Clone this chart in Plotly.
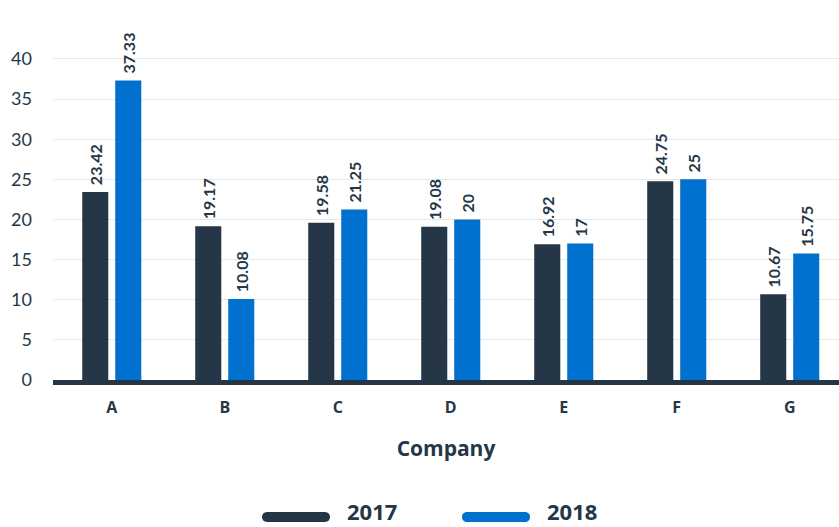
import plotly.graph_objects as go

companies = ["A", "B", "C", "D", "E", "F", "G"]
values_2017 = [23.42, 19.17, 19.58, 19.08, 16.92, 24.75, 10.67]
values_2018 = [37.33, 10.08, 21.25, 20, 17, 25, 15.75]
label_2017 = ["23.42", "19.17", "19.58", "19.08", "16.92", "24.75", "10.67"]
label_2018 = ["37.33", "10.08", "21.25", "20", "17", "25", "15.75"]
series_names = ["2017", "2018"]
colors = ["#253746", "#0071ce"]
y_ticks = [0, 5, 10, 15, 20, 25, 30, 35, 40]

FONT = "Lato"
TFONT = "Open Sans"
TXT = "#253746"

fig = go.Figure()
for name, vals, labels, col in [(series_names[0], values_2017, label_2017, colors[0]),
                                (series_names[1], values_2018, label_2018, colors[1])]:
    fig.add_trace(go.Bar(
        x=companies, y=vals, name=name, marker=dict(color=col, line=dict(width=0)),
        text=["\u00a0" + t for t in labels], textposition="outside", textangle=-90, constraintext="none",
        textfont=dict(family=FONT, size=16, color=TXT, weight="bold"),
        cliponaxis=False, showlegend=False,
    ))

W, H = 839, 527
L, R, T, B = 53, 0, 10, 147
pw, ph = W - L - R, H - T - B

# legend (pills + labels)
legend_items = [(262, series_names[0], colors[0]), (462, series_names[1], colors[1])]
for px, name, col in legend_items:
    xa = (px - L) / pw
    fig.add_shape(type="path", xref="paper", yref="paper", xsizemode="pixel", ysizemode="pixel",
                  xanchor=xa, yanchor=(H - B - 517) / ph,
                  path="M 5 -5 L 63 -5 C 69.7 -5 69.7 5 63 5 L 5 5 C -1.7 5 -1.7 -5 5 -5 Z",
                  fillcolor=col, line=dict(width=0))
    fig.add_annotation(xref="paper", yref="paper", x=(px + 83 - L) / pw, y=(H - B - 511) / ph,
                       xanchor="left", yanchor="middle", showarrow=False, text=name,
                       font=dict(family=TFONT, size=22, color=TXT, weight="bold"))

fig.update_layout(
    width=W, height=H, margin=dict(l=L, r=R, t=T, b=B),
    paper_bgcolor="white", plot_bgcolor="white",
    barmode="group", bargap=0.416, bargroupgap=0.21,
    font=dict(family=FONT, color=TXT),
    xaxis=dict(range=[-0.52, 6.436], showgrid=False, showline=True, linewidth=5, linecolor=TXT,
               tickfont=dict(family=TFONT, size=16, color=TXT, weight="bold"), ticks="",
               ticklabelstandoff=9,
               title=dict(text="Company", font=dict(family=TFONT, size=21, color=TXT, weight="bold"), standoff=26)),
    yaxis=dict(range=[0, 46.1], tickvals=y_ticks, showgrid=True, gridcolor="#e8e8e8", gridwidth=1,
               zeroline=False, ticks="", ticklabelstandoff=20,
               tickfont=dict(family=FONT, size=18, color=TXT)),
)

fig.write_html("out.html", config={"displayModeBar": False},
               post_script="document.body.style.margin='0';document.body.style.overflow='hidden';")
